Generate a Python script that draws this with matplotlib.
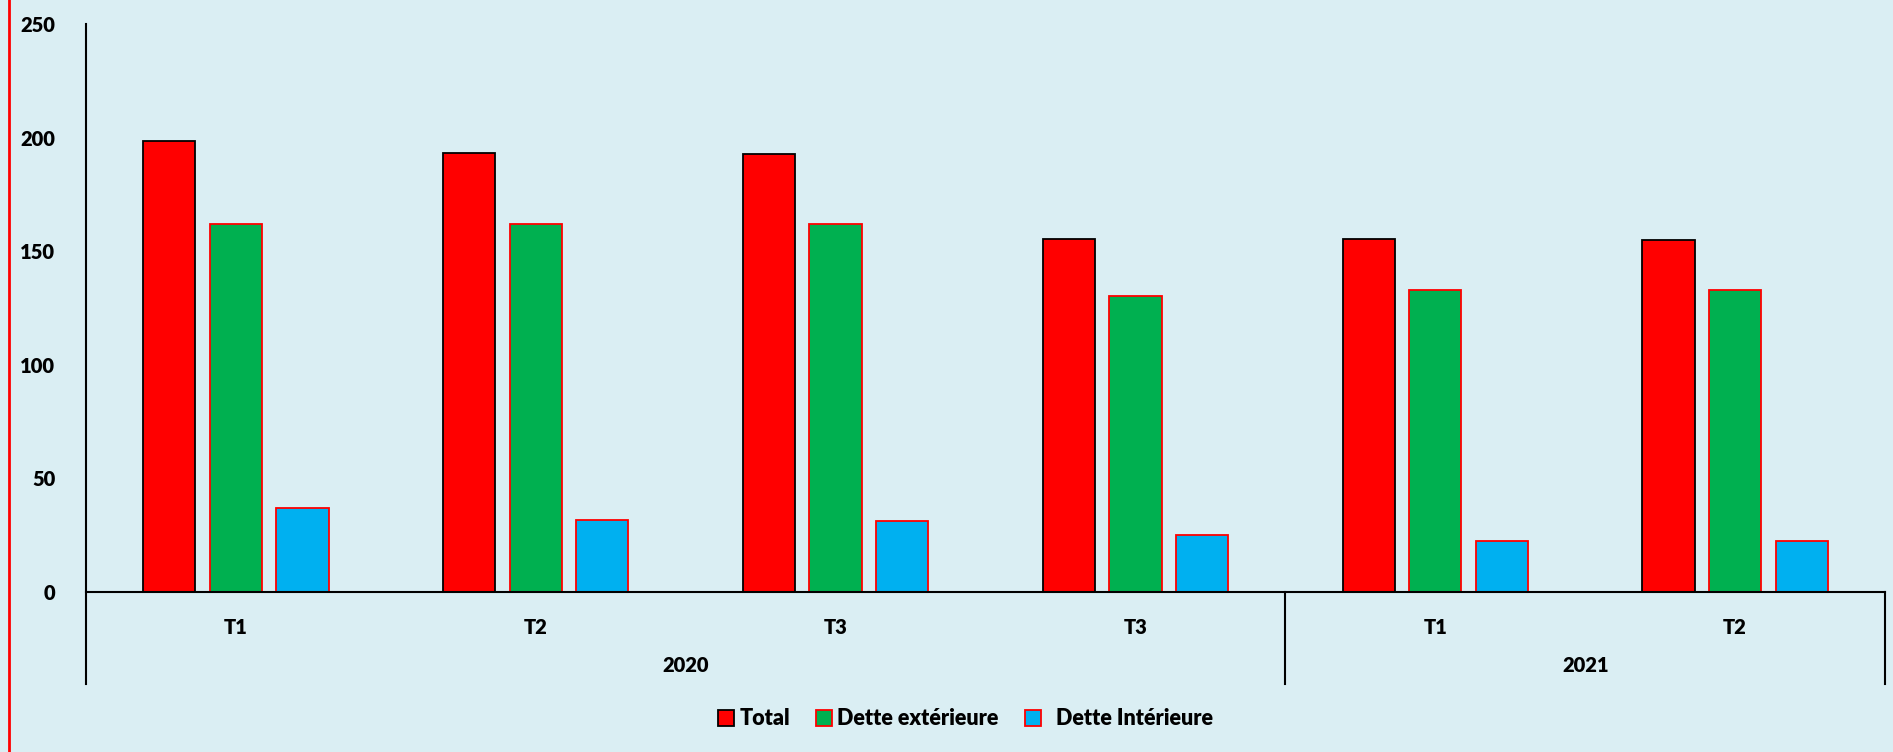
import matplotlib
matplotlib.use("Agg")
import matplotlib.pyplot as plt
import matplotlib.transforms as mtransforms
from matplotlib.patches import Patch
import numpy as np

plt.rcParams['font.family'] = ['Lato', 'DejaVu Sans']
plt.rcParams['font.weight'] = 'heavy'

# data
quarters = ["T1", "T2", "T3", "T3", "T1", "T2"]
years = ["2020", "2021"]
year_spans = [(0, 3), (4, 5)]  # first / last quarter index per year
total = [198.5, 193.2, 192.6, 155.3, 155.4, 154.9]
dette_ext = [161.8, 161.8, 161.8, 130.4, 133.0, 133.0]
dette_int = [36.7, 31.4, 30.9, 25.0, 22.3, 22.1]

series = [
    ("Total", total, "#FF0000", "black"),
    ("Dette extérieure", dette_ext, "#00B050", "#FF0000"),
    ("  Dette Intérieure", dette_int, "#00B0F0", "#FF0000"),
]

bg = "#DAEEF3"
fsize = 14.5
fig = plt.figure(figsize=(18.93, 7.52), dpi=100, facecolor=bg)
ax = fig.add_axes([0.0454, 0.2134, 0.9504, 0.7546])
ax.set_facecolor(bg)

x = np.arange(len(quarters))
width = 0.174
step = 0.222
for i, (name, vals, col, edge) in enumerate(series):
    ax.bar(x + (i - 1) * step, vals, width, color=col, edgecolor=edge,
           linewidth=1.3, label=name)

ax.set_xlim(-0.5, len(quarters) - 0.5)
ax.set_ylim(0, 250)
ax.set_yticks([0, 50, 100, 150, 200, 250])
ax.tick_params(axis='y', length=0, pad=22, labelsize=fsize)
ax.set_xticks([])
for s in ['top', 'right', 'bottom', 'left']:
    ax.spines[s].set_visible(False)

trans = mtransforms.blended_transform_factory(ax.transData, ax.transAxes)
low = -0.163
# axis lines
ax.plot([-0.5, len(quarters) - 0.5], [0, 0], transform=trans, color="black",
        lw=1.5, clip_on=False)
ax.plot([-0.5, -0.5], [low, 1.0], transform=trans, color="black", lw=1.5,
        clip_on=False)
for a, b in year_spans[1:]:
    ax.plot([a - 0.5, a - 0.5], [low, 0], transform=trans, color="black",
            lw=1.5, clip_on=False)
ax.plot([len(quarters) - 0.5] * 2, [low, 0], transform=trans, color="black",
        lw=1.5, clip_on=False)

for xi, q in zip(x, quarters):
    ax.text(xi, -0.064, q, transform=trans, ha='center', va='center',
            fontsize=fsize)
for yr, (a, b) in zip(years, year_spans):
    ax.text((a + b) / 2, -0.131, yr, transform=trans, ha='center',
            va='center', fontsize=fsize)

handles = [Patch(facecolor=c, edgecolor=e, linewidth=1.3, label=n)
           for n, v, c, e in series]
fig.legend(handles=handles, loc='center', bbox_to_anchor=(0.51, 0.044),
           ncol=3, frameon=False, fontsize=15.5, handlelength=0.75,
           handleheight=0.75, handletextpad=0.25, columnspacing=1.2)

# red left border of the chart area
fig.add_artist(plt.Line2D([0.005, 0.005], [0, 1], transform=fig.transFigure,
                          color="#FF0000", lw=2))

fig.savefig("out.png", dpi=100, facecolor=bg)
